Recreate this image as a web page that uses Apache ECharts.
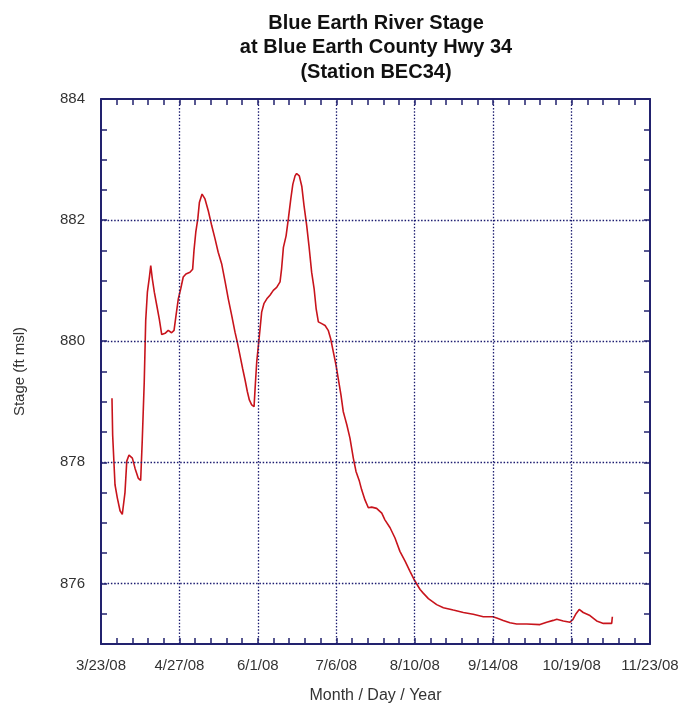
<!DOCTYPE html>
<html>
<head>
<meta charset="utf-8">
<script src="https://cdn.jsdelivr.net/npm/echarts@6/dist/echarts.min.js"></script>
<style>
html,body{margin:0;padding:0;background:#fff;}
#chart{width:683px;height:709px;}
</style>
</head>
<body>
<div id="chart"></div>
<script>
// Days since 3/23/08
const dayOffsets = [4.9,5.2,6.25,7.3,8.5,9.5,10.7,11.5,12.5,14.0,15.2,16.6,17.7,18.4,19.3,19.95,20.7,21.6,22.2,22.9,23.8,24.9,26.0,27.1,28.6,30.0,31.5,32.6,33.5,34.5,35.6,36.7,37.9,39.7,40.9,41.5,42.3,43.2,43.9,45.1,46.4,47.9,49.4,50.9,52.3,53.9,55.3,56.8,58.3,59.8,60.8,62.0,63.2,64.3,65.3,66.2,67.25,68.3,68.9,69.5,70.4,71.0,71.7,72.7,74.0,75.4,76.9,78.4,79.9,80.6,81.4,82.6,83.6,84.7,85.6,86.6,87.3,88.5,89.6,90.6,91.8,92.8,94.0,95.1,96.0,97.0,98.5,100.0,101.4,102.5,103.7,104.9,105.9,107.1,108.1,108.9,109.7,111.1,112.6,113.8,115.3,116.3,117.8,119.3,120.8,123.0,125.3,126.7,129.0,131.2,133.4,135.7,137.9,140.1,142.4,143.8,146.1,149.8,152.8,157.2,161.7,166.1,170.6,174.8,176.6,179.5,182.5,185.5,190.0,195.9,198.9,201.8,203.4,206.3,209.3,210.5,212.0,213.4,215.2,218.2,221.2,224.2,226.4,227.9,228.2];
const stageValues = [879.06,878.45,877.63,877.41,877.2,877.14,877.5,878.02,878.12,878.07,877.9,877.74,877.7,878.35,879.33,880.34,880.81,881.06,881.25,881.03,880.81,880.59,880.37,880.11,880.13,880.18,880.14,880.18,880.43,880.7,880.87,881.06,881.11,881.14,881.19,881.5,881.8,882.02,882.29,882.43,882.35,882.15,881.91,881.69,881.47,881.27,881.0,880.7,880.43,880.15,879.99,879.77,879.55,879.36,879.17,879.03,878.95,878.92,879.3,879.66,879.99,880.21,880.48,880.62,880.7,880.76,880.84,880.89,880.98,881.2,881.55,881.74,882.02,882.35,882.59,882.73,882.77,882.73,882.56,882.24,881.91,881.58,881.14,880.87,880.54,880.32,880.29,880.26,880.18,880.04,879.82,879.6,879.38,879.11,878.84,878.73,878.62,878.4,878.07,877.85,877.69,877.55,877.38,877.25,877.26,877.24,877.16,877.05,876.92,876.75,876.53,876.37,876.2,876.04,875.9,875.84,875.75,875.65,875.6,875.56,875.52,875.49,875.45,875.45,875.43,875.39,875.35,875.33,875.33,875.32,875.36,875.39,875.41,875.38,875.36,875.4,875.5,875.57,875.52,875.47,875.38,875.34,875.34,875.34,875.45];
const xTickLabels = ['3/23/08','4/27/08','6/1/08','7/6/08','8/10/08','9/14/08','10/19/08','11/23/08'];
const yTickLabels = [876,878,880,882,884];
const xGridDays = [35,70,105,140,175,210];
const yGridValues = [876,878,880,882];

const navy = '#22226e';
const font = 'Liberation Sans, Arial, sans-serif';
const chart = echarts.init(document.getElementById('chart'), null, {renderer:'canvas'});
const seriesData = dayOffsets.map((d,i)=>[d, stageValues[i]]);
const gridStyle = {type:[1.5,1.8], color:'#1c1c70', width:1.3};

const axisCommon = {
  axisLine:{show:true, onZero:false, lineStyle:{color:navy, width:2}},
  axisTick:{show:true, inside:true, length:6, lineStyle:{color:navy, width:1.5}},
  splitLine:{show:false}
};

chart.setOption({
  backgroundColor:'#ffffff',
  animation:false,
  title:{
    text:'Blue Earth River Stage\nat Blue Earth County Hwy 34\n(Station BEC34)',
    left:376, top:11, padding:0, textAlign:'center',
    textStyle:{fontFamily:font, fontSize:20, fontWeight:'bold', color:'#111', lineHeight:24.5}
  },
  grid:{left:101, right:33, top:99, bottom:62, containLabel:false},
  xAxis:[
    Object.assign({}, axisCommon, {
      type:'value', min:0, max:245, interval:7, position:'bottom',
      name:'Month / Day / Year', nameLocation:'middle', nameGap:44,
      nameTextStyle:{fontFamily:font, fontSize:16, color:'#333'},
      axisLabel:{show:true, margin:14, fontFamily:font, fontSize:15, color:'#333',
        formatter:(v)=> (Math.round(v)%35===0) ? xTickLabels[Math.round(v)/35] : ''}
    }),
    Object.assign({}, axisCommon, {
      type:'value', min:0, max:245, interval:7, position:'top', axisLabel:{show:false}
    })
  ],
  yAxis:[
    Object.assign({}, axisCommon, {
      type:'value', min:875, max:884, interval:0.5, position:'left',
      name:'Stage (ft msl)', nameLocation:'middle', nameGap:74, nameRotate:90,
      nameTextStyle:{fontFamily:font, fontSize:15, color:'#333'},
      axisLabel:{show:true, margin:16, fontFamily:font, fontSize:15, color:'#333',
        formatter:(v)=> yTickLabels.indexOf(v) >= 0 ? String(v) : ''}
    }),
    Object.assign({}, axisCommon, {
      type:'value', min:875, max:884, interval:0.5, position:'right', axisLabel:{show:false}
    })
  ],
  series:[{
    type:'line',
    data:seriesData,
    showSymbol:false,
    symbol:'none',
    lineStyle:{color:'#c8141c', width:1.6},
    z:3,
    markLine:{
      silent:true, symbol:'none', animation:false,
      label:{show:false},
      lineStyle:gridStyle,
      data: xGridDays.map(d=>({xAxis:d})).concat(yGridValues.map(v=>({yAxis:v})))
    }
  }]
});
</script>
</body>
</html>
